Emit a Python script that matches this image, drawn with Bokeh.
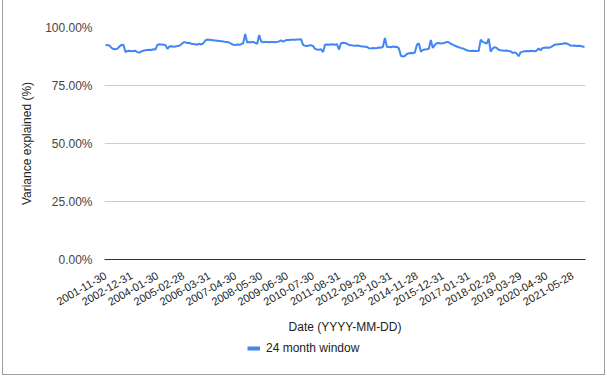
import math
from bokeh.plotting import figure
from bokeh.layouts import column
from bokeh.models import (ColumnDataSource, Range1d, FixedTicker, NumeralTickFormatter,
                          Legend, LegendItem)
from bokeh.embed import file_html
from bokeh.resources import INLINE

# ---- data ----
tick_labels = ["2001-11-30", "2002-12-31", "2004-01-30", "2005-02-28", "2006-03-31",
               "2007-04-30", "2008-05-30", "2009-06-30", "2010-07-30", "2011-08-31",
               "2012-09-28", "2013-10-31", "2014-11-28", "2015-12-31", "2017-01-31",
               "2018-02-28", "2019-03-29", "2020-04-30", "2021-05-28"]
label_step = 13  # months between labelled categories
series_name = "24 month window"

variance_2002 = [0.925, 0.924, 0.922, 0.912, 0.907, 0.906, 0.909, 0.918, 0.925, 0.926,
                 0.894, 0.899, 0.900, 0.898, 0.899, 0.900, 0.893, 0.892, 0.897, 0.900]
variance_2004 = [0.902, 0.903, 0.904, 0.903, 0.906, 0.905, 0.925, 0.928, 0.927, 0.926,
                 0.925, 0.908, 0.918, 0.919, 0.917, 0.918, 0.920, 0.921, 0.928, 0.935]
variance_2005 = [0.937, 0.933, 0.934, 0.930, 0.929, 0.928, 0.926, 0.930, 0.927, 0.932,
                 0.944, 0.948, 0.947, 0.946, 0.945, 0.944, 0.943, 0.942, 0.941, 0.940]
variance_2007 = [0.938, 0.937, 0.935, 0.930, 0.926, 0.925, 0.927, 0.926, 0.928, 0.932,
                 0.972, 0.935, 0.937, 0.936, 0.938, 0.934, 0.930, 0.968, 0.940, 0.936]
variance_2009 = [0.938, 0.937, 0.936, 0.938, 0.937, 0.936, 0.938, 0.940, 0.945, 0.939,
                 0.944, 0.946, 0.946, 0.947, 0.947, 0.947, 0.948, 0.948, 0.949, 0.925]
variance_2010 = [0.921, 0.920, 0.922, 0.924, 0.920, 0.908, 0.905, 0.904, 0.906, 0.894,
                 0.926, 0.927, 0.926, 0.928, 0.927, 0.926, 0.928, 0.905, 0.932, 0.934]
variance_2012 = [0.933, 0.930, 0.925, 0.924, 0.922, 0.921, 0.922, 0.921, 0.919, 0.918,
                 0.917, 0.916, 0.911, 0.910, 0.912, 0.911, 0.912, 0.914, 0.913, 0.917]
variance_2014 = [0.955, 0.917, 0.916, 0.915, 0.918, 0.916, 0.917, 0.910, 0.878, 0.875,
                 0.877, 0.886, 0.889, 0.890, 0.889, 0.892, 0.925, 0.932, 0.896, 0.903]
variance_2015 = [0.905, 0.906, 0.908, 0.946, 0.912, 0.925, 0.932, 0.933, 0.931, 0.932,
                 0.934, 0.938, 0.936, 0.930, 0.926, 0.922, 0.918, 0.915, 0.912, 0.910]
variance_2017 = [0.906, 0.902, 0.900, 0.899, 0.900, 0.899, 0.899, 0.900, 0.948, 0.938,
                 0.935, 0.930, 0.952, 0.896, 0.910, 0.915, 0.912, 0.904, 0.902, 0.901]
variance_2019 = [0.900, 0.901, 0.899, 0.898, 0.890, 0.893, 0.888, 0.876, 0.893, 0.896,
                 0.898, 0.899, 0.898, 0.900, 0.899, 0.898, 0.900, 0.910, 0.902, 0.912]
variance_2020 = [0.913, 0.914, 0.913, 0.915, 0.920, 0.926, 0.927, 0.928, 0.929, 0.930,
                 0.932, 0.931, 0.928, 0.922, 0.921, 0.922, 0.920, 0.921, 0.920, 0.918,
                 0.916]

variance = (variance_2002 + variance_2004 + variance_2005 + variance_2007 + variance_2009 +
            variance_2010 + variance_2012 + variance_2014 + variance_2015 + variance_2017 +
            variance_2019 + variance_2020)
idx = list(range(len(variance)))

source = ColumnDataSource(data=dict(x=idx, y=variance))

FONT = "Liberation Sans"
LINE_COLOR = "#4285f4"

# ---- main chart ----
p = figure(width=607, height=338, output_backend="svg", toolbar_location=None,
           x_range=Range1d(-0.5, len(variance) - 0.5), y_range=Range1d(0, 1.0),
           min_border_left=104, min_border_right=22, min_border_top=27, min_border_bottom=79)
p.outline_line_color = None
p.background_fill_color = "white"
p.border_fill_alpha = 0

r = p.line("x", "y", source=source, line_color=LINE_COLOR, line_width=2)

# y axis
p.yaxis.ticker = FixedTicker(ticks=[0, 0.25, 0.5, 0.75, 1.0])
p.yaxis.formatter = NumeralTickFormatter(format="0.00%")
p.yaxis.axis_line_color = None
p.yaxis.major_tick_line_color = None
p.yaxis.minor_tick_line_color = None
p.yaxis.major_label_text_font = FONT
p.yaxis.major_label_text_font_size = "12px"
p.yaxis.major_label_text_color = "#444444"
p.yaxis.major_label_standoff = 6
p.yaxis.axis_label = "Variance explained (%)"
p.yaxis.axis_label_text_font = FONT
p.yaxis.axis_label_text_font_size = "12px"
p.yaxis.axis_label_text_font_style = "normal"
p.yaxis.axis_label_text_color = "#222222"
p.yaxis.axis_label_standoff = 8

# x axis
p.xaxis.ticker = FixedTicker(ticks=[i * label_step for i in range(len(tick_labels))])
p.xaxis.major_label_overrides = {i * label_step: lab for i, lab in enumerate(tick_labels)}
p.xaxis.major_label_orientation = math.pi / 6
p.xaxis.axis_line_color = "#333333"
p.xaxis.axis_line_width = 1
p.xaxis.major_tick_line_color = None
p.xaxis.minor_tick_line_color = None
p.xaxis.major_label_text_font = FONT
p.xaxis.major_label_text_font_size = "11px"
p.xaxis.major_label_text_color = "#222222"
p.xaxis.major_label_standoff = 9
p.xaxis.axis_label = "Date (YYYY-MM-DD)"
p.xaxis.axis_label_text_font = FONT
p.xaxis.axis_label_text_font_size = "12px"
p.xaxis.axis_label_text_font_style = "normal"
p.xaxis.axis_label_text_color = "#222222"
p.xaxis.axis_label_standoff = 7

p.xgrid.grid_line_color = None
p.ygrid.grid_line_color = "#cccccc"
p.ygrid.grid_line_width = 1

# ---- legend strip below the chart (its frame is aligned with the chart's) ----
leg = figure(width=607, height=40, output_backend="svg", toolbar_location=None,
             x_range=Range1d(-0.5, len(variance) - 0.5), y_range=Range1d(2, 3),
             min_border=0, outline_line_color=None)
leg.axis.visible = False
leg.grid.visible = False
leg.background_fill_alpha = 0
leg.border_fill_alpha = 0
lr = leg.line("x", "y", source=source, line_color=LINE_COLOR, line_width=4)

legend = Legend(items=[LegendItem(label=series_name, renderers=[lr])],
                location=(143, 23), orientation="horizontal",
                label_text_font=FONT, label_text_font_size="12px",
                label_text_color="#222222", glyph_width=13, glyph_height=12,
                padding=0, margin=0, border_line_color=None,
                background_fill_alpha=0, label_standoff=6)
leg.add_layout(legend)

# thin grey frame on the left, right and bottom (as in the reference screenshot)
frame_bg = ("linear-gradient(#9e9e9e,#9e9e9e) 2px 0 / 1px 375px no-repeat, "
            "linear-gradient(#9e9e9e,#9e9e9e) 604px 0 / 1px 375px no-repeat, "
            "linear-gradient(#9e9e9e,#9e9e9e) 2px 374px / 603px 1px no-repeat, white")
layout = column(p, leg, spacing=0, styles={"background": frame_bg})

open("out.html", "w").write(file_html(layout, INLINE))
